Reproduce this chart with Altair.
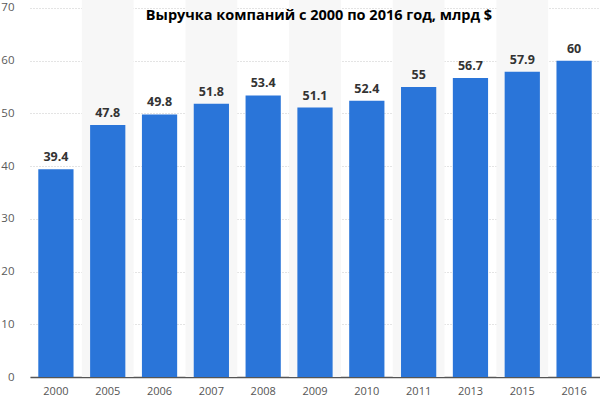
import altair as alt
import pandas as pd

years = ["2000", "2005", "2006", "2007", "2008", "2009", "2010", "2011", "2013", "2015", "2016"]
revenue = [39.4, 47.8, 49.8, 51.8, 53.4, 51.1, 52.4, 55, 56.7, 57.9, 60]
labels = ["39.4", "47.8", "49.8", "51.8", "53.4", "51.1", "52.4", "55", "56.7", "57.9", "60"]
shaded = [i % 2 == 1 for i in range(len(years))]
y_ticks = [0, 10, 20, 30, 40, 50, 60, 70]
title_text = "Выручка компаний с 2000 по 2016 год, млрд $"

df = pd.DataFrame({"year": years, "value": revenue, "label": labels, "shade": shaded,
                   "top": [71.5] * len(years)})

x_enc = alt.X("year:N", sort=years,
              scale=alt.Scale(paddingInner=0.32, paddingOuter=0.16),
              axis=alt.Axis(title=None, labelAngle=0, labelFont="Open Sans", labelFontSize=11,
                            labelColor="#555555", ticks=False, labelPadding=8,
                            domainColor="#555555", domainWidth=1.5, grid=False))
y_scale = alt.Scale(domain=[0, 71.5], nice=False)
y_axis = alt.Axis(title=None, values=y_ticks, labelFont="Open Sans", labelFontSize=11.5,
                  labelColor="#5a5a5a", ticks=False, labelPadding=16, domain=False,
                  gridColor="#c8c8c8", gridDash=[1, 2], gridWidth=1)

shade = alt.Chart(df).transform_filter("datum.shade").mark_bar(
    color="#f7f7f7", width=alt.RelativeBandSize(1 / 0.68)
).encode(x=x_enc, y=alt.Y("top:Q", scale=y_scale, axis=y_axis))

bars = alt.Chart(df).mark_bar(color="#2a75d9").encode(
    x=x_enc,
    y=alt.Y("value:Q", scale=y_scale, axis=y_axis),
)

text = alt.Chart(df).mark_text(
    baseline="bottom", dy=-5, font="Open Sans", fontSize=12.5, fontWeight="bold", color="#333333"
).encode(x=x_enc, y=alt.Y("value:Q", scale=y_scale, axis=y_axis), text="label:N")

title = alt.Chart(pd.DataFrame({"t": [title_text]})).mark_text(
    font="Open Sans", fontSize=14.5, fontWeight="bold", color="#000000",
    align="center", baseline="middle"
).encode(x=alt.value(289), y=alt.value(16), text="t:N")

chart = alt.layer(shade, bars, text, title).properties(
    width=570, height=377,
    autosize=alt.AutoSizeParams(type="none"),
    padding={"left": 30, "top": 0, "right": 0, "bottom": 26},
).configure_view(stroke=None)

chart.save("out.html", embed_options={"renderer": "svg", "actions": False})
